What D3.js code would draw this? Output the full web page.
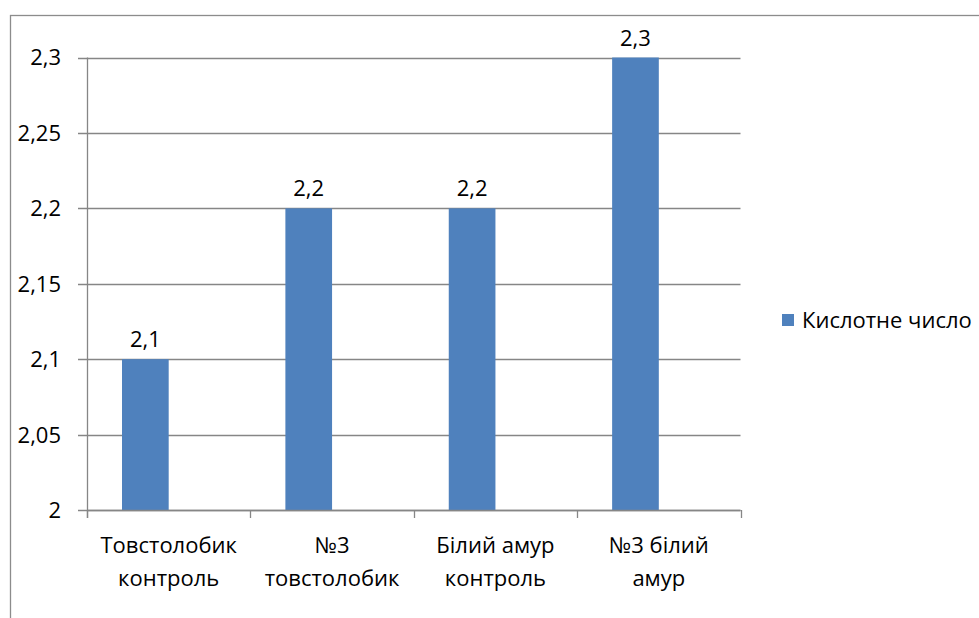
<!DOCTYPE html>
<html>
<head>
<meta charset="utf-8">
<script src="https://cdn.jsdelivr.net/npm/d3@7"></script>
<style>
  html, body { margin: 0; padding: 0; background: #fff; }
  svg text { font-family: "Open Sans", Carlito, Calibri, sans-serif; fill: #000; }
</style>
</head>
<body>
<svg id="chart" width="979" height="618"></svg>
<script>
// Кислотне число по зразках
const categories = [["Товстолобик", "контроль"], ["№3", "товстолобик"], ["Білий амур", "контроль"], ["№3 білий", "амур"]];
const values = [2.1, 2.2, 2.2, 2.3];
const yTicks = [2, 2.05, 2.1, 2.15, 2.2, 2.25, 2.3];
const seriesName = "Кислотне число";

const barColor = "#4F81BD";
const gridColor = "#868686";
const fontSize = 22;
const fmt = v => String(v).replace(".", ",");

const svg = d3.select("#chart");

// chart frame
svg.append("rect")
  .attr("x", 10.5).attr("y", 15.5)
  .attr("width", 975).attr("height", 620)
  .attr("fill", "none").attr("stroke", "#8c8c8c").attr("stroke-width", 1.3);

const plot = { left: 87, right: 740.5, top: 57.5, bottom: 510 };

const x = d3.scaleBand()
  .domain(d3.range(categories.length))
  .range([plot.left, plot.right])
  .padding(0);

const y = d3.scaleLinear()
  .domain([2, 2.3])
  .range([plot.bottom, plot.top]);

// horizontal gridlines
svg.append("g").selectAll("line")
  .data(yTicks)
  .join("line")
  .attr("x1", plot.left - 9).attr("x2", plot.right)
  .attr("y1", d => Math.round(y(d)) + 0.5).attr("y2", d => Math.round(y(d)) + 0.5)
  .attr("stroke", gridColor).attr("stroke-width", 1.3);

// y tick labels
svg.append("g").selectAll("text")
  .data(yTicks)
  .join("text")
  .attr("x", 61)
  .attr("y", d => y(d))
  .attr("dy", "0.36em")
  .attr("text-anchor", "end")
  .attr("font-size", fontSize)
  .text(fmt);

// bars: one series placed in the first slot of a two-slot cluster
const slot = x.bandwidth() / 3.5;
svg.append("g").selectAll("rect")
  .data(values)
  .join("rect")
  .attr("x", (d, i) => x(i) + slot * 0.75)
  .attr("width", slot)
  .attr("y", d => y(d))
  .attr("height", d => y(2) - y(d))
  .attr("fill", barColor);

// value labels
svg.append("g").selectAll("text")
  .data(values)
  .join("text")
  .attr("x", (d, i) => x(i) + slot * 1.25)
  .attr("y", d => y(d) - 12)
  .attr("text-anchor", "middle")
  .attr("font-size", fontSize)
  .text(fmt);

// axes lines
svg.append("line")
  .attr("x1", plot.left + 0.5).attr("x2", plot.left + 0.5)
  .attr("y1", plot.top).attr("y2", plot.bottom + 8)
  .attr("stroke", gridColor).attr("stroke-width", 1.3);
svg.append("line")
  .attr("x1", plot.left).attr("x2", plot.right)
  .attr("y1", plot.bottom + 0.5).attr("y2", plot.bottom + 0.5)
  .attr("stroke", gridColor).attr("stroke-width", 1.3);

// category ticks
const bounds = d3.range(categories.length + 1).map(i => plot.left + i * x.bandwidth());
svg.append("g").selectAll("line")
  .data(bounds)
  .join("line")
  .attr("x1", d => Math.round(d) + 0.5).attr("x2", d => Math.round(d) + 0.5)
  .attr("y1", plot.bottom).attr("y2", plot.bottom + 8)
  .attr("stroke", gridColor).attr("stroke-width", 1.3);

// category labels
const catG = svg.append("g").selectAll("text")
  .data(categories)
  .join("text")
  .attr("text-anchor", "middle")
  .attr("font-size", fontSize);
catG.each(function(lines, i) {
  const t = d3.select(this);
  lines.forEach((ln, k) => {
    t.append("tspan")
      .attr("x", x(i) + x.bandwidth() / 2)
      .attr("y", 553 + k * 33)
      .text(ln);
  });
});

// legend
const lg = svg.append("g");
lg.append("rect")
  .attr("x", 782).attr("y", 314)
  .attr("width", 12).attr("height", 12)
  .attr("fill", barColor);
lg.append("text")
  .attr("x", 802).attr("y", 320)
  .attr("dy", "0.36em")
  .attr("font-size", fontSize)
  .text(seriesName);
</script>
</body>
</html>
